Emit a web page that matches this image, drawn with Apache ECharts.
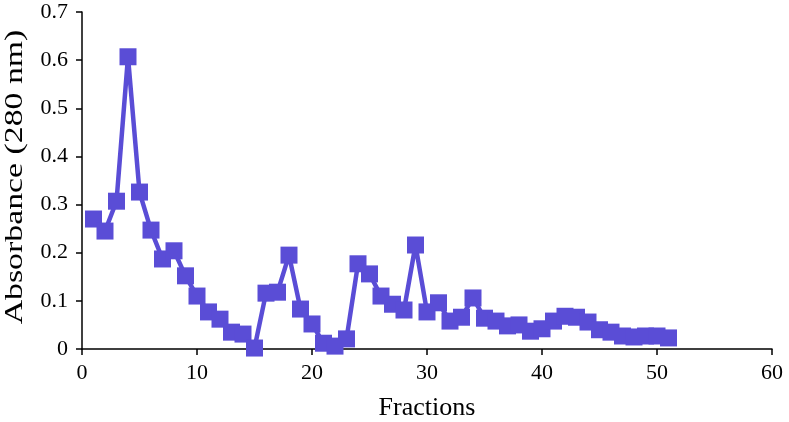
<!doctype html>
<html>
<head>
<meta charset="utf-8">
<title>chart</title>
<script src="https://cdn.jsdelivr.net/npm/echarts@6/dist/echarts.min.js"></script>
<style>
    html, body { margin: 0; padding: 0; background: #fff; }
    #main { width: 789px; height: 422px; }
</style>
</head>
<body>
<div id="main"></div>
<script>
    // fraction numbers and absorbance readings
    const fractions = [1, 2, 3, 4, 5, 6, 7, 8, 9, 10, 11, 12, 13, 14, 15, 16, 17, 18, 19, 20,
        21, 22, 23, 24, 25, 26, 27, 28, 29, 30, 31, 32, 33, 34, 35, 36, 37, 38, 39, 40,
        41, 42, 43, 44, 45, 46, 47, 48, 49, 50, 51];
    const absorbance = [0.270, 0.245, 0.307, 0.607, 0.326, 0.247, 0.187, 0.204, 0.152, 0.110,
        0.077, 0.062, 0.035, 0.031, 0.002, 0.116, 0.118, 0.195, 0.083, 0.052,
        0.012, 0.006, 0.021, 0.177, 0.156, 0.110, 0.093, 0.081, 0.216, 0.077,
        0.096, 0.058, 0.066, 0.106, 0.064, 0.058, 0.048, 0.050, 0.037, 0.042,
        0.058, 0.068, 0.066, 0.056, 0.040, 0.035, 0.027, 0.025, 0.027, 0.027, 0.023];

    const points = fractions.map((f, i) => [f, absorbance[i]]);
    const font = '"Liberation Serif", "DejaVu Serif", serif';

    const chart = echarts.init(document.getElementById('main'));
    chart.setOption({
        animation: false,
        grid: {left: 82, right: 17, top: 12, bottom: 73, containLabel: false, outerBoundsMode: 'none'},
        xAxis: {
            type: 'value',
            min: 0, max: 60, interval: 10,
            name: 'Fractions',
            nameLocation: 'middle',
            nameGap: 46,
            nameTextStyle: {fontFamily: font, fontSize: 26, color: '#000'},
            axisLine: {onZero: false, lineStyle: {color: '#000', width: 1.5}},
            axisTick: {length: 6, lineStyle: {color: '#000', width: 1.5}},
            axisLabel: {fontFamily: font, fontSize: 22, color: '#000', margin: 13},
            splitLine: {show: false}
        },
        yAxis: {
            type: 'value',
            min: 0, max: 0.7, interval: 0.1,
            axisLine: {show: true, lineStyle: {color: '#000', width: 1.5}},
            axisTick: {show: true, length: 6, lineStyle: {color: '#000', width: 1.5}},
            axisLabel: {fontFamily: font, fontSize: 22, color: '#000', margin: 14},
            splitLine: {show: false}
        },
        // y title is drawn stretched along its length, as in the source figure
        graphic: [{
            type: 'text',
            x: 15,
            y: 177,
            rotation: Math.PI / 2,
            scaleX: 1.3,
            style: {
                text: 'Absorbance (280 nm)',
                fontFamily: font,
                fontSize: 26,
                fill: '#000',
                textAlign: 'center',
                textVerticalAlign: 'middle'
            }
        }],
        series: [{
            type: 'line',
            data: points,
            symbol: 'rect',
            symbolSize: 17,
            lineStyle: {color: '#5a4dd6', width: 4.5},
            itemStyle: {color: '#5a4dd6'}
        }]
    });
</script>
</body>
</html>
